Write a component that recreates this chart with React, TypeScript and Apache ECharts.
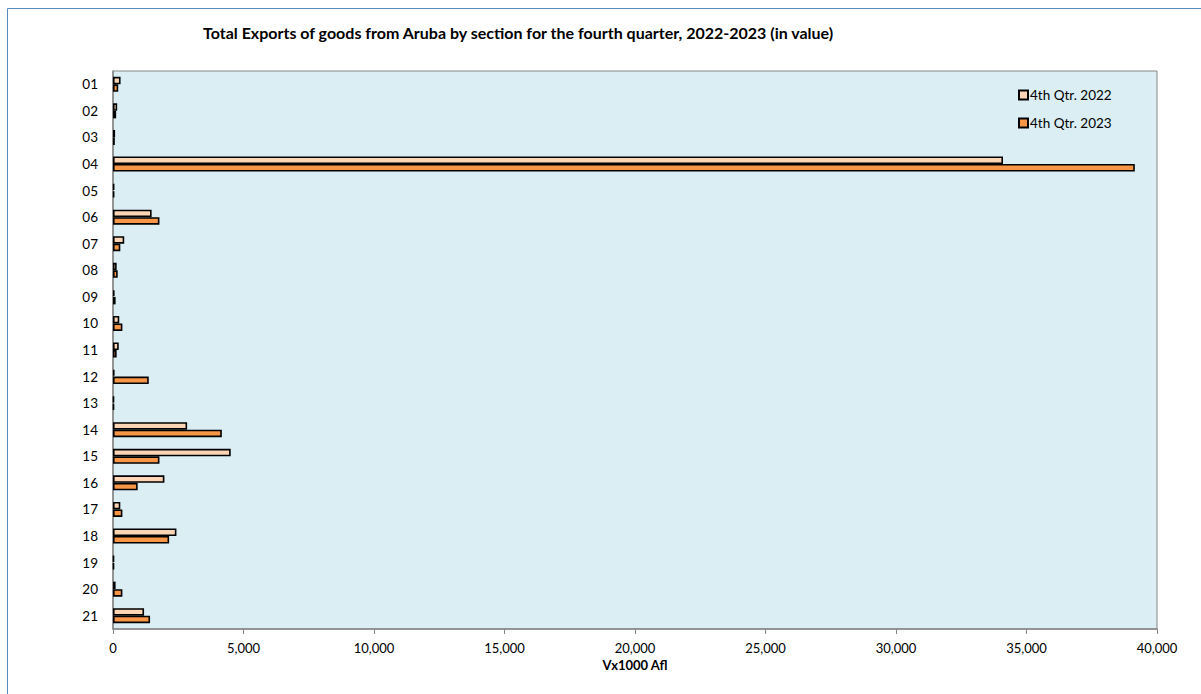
import React, { useEffect, useRef } from "react";
import * as echarts from "echarts";

const categories = ["01","02","03","04","05","06","07","08","09","10","11","12","13","14","15","16","17","18","19","20","21"];
const q4_2022 = [290, 160, 80, 34100, 50, 1480, 430, 140, 60, 240, 220, 60, 40, 2840, 4510, 1970, 280, 2430, 40, 100, 1190];
const q4_2023 = [200, 120, 70, 39150, 50, 1780, 280, 180, 100, 360, 140, 1370, 40, 4170, 1780, 945, 360, 2150, 40, 360, 1420];
const seriesNames = ["4th Qtr. 2022", "4th Qtr. 2023"];
const titleText = "Total Exports of goods from Aruba by section for the fourth quarter, 2022-2023 (in value)";
const xAxisName = "Vx1000 Afl";

const FONT = "Lato, 'Liberation Sans', sans-serif";

export default function App() {
  const ref = useRef<HTMLDivElement>(null);
  useEffect(() => {
    if (!ref.current) return;
    const chart = echarts.init(ref.current, undefined, { renderer: "svg" });
    chart.setOption({
      animation: false,
      backgroundColor: "#ffffff",
      textStyle: { fontFamily: FONT },
      title: {
        text: titleText,
        left: 198,
        top: 19,
        textStyle: { fontFamily: FONT, fontSize: 16, fontWeight: "bold", color: "#000" },
      },
      graphic: [
        {
          type: "rect",
          shape: { x: 7.5, y: 8.5, width: 1400, height: 900 },
          style: { fill: "none", stroke: "#5b87c0", lineWidth: 1 },
          silent: true,
        },
      ],
      legend: {
        orient: "vertical",
        left: 1013,
        top: 83,
        itemWidth: 9,
        itemHeight: 9,
        itemGap: 14,
        icon: "rect",
        textStyle: { fontFamily: FONT, fontSize: 13.5, color: "#000", padding: [0, 0, 0, -3] },
        data: seriesNames,
      },
      grid: {
        left: 113,
        right: 44,
        top: 71,
        bottom: 65,
        show: true,
        backgroundColor: "#daeef3",
        borderColor: "#868686",
        borderWidth: 1,
      },
      xAxis: {
        type: "value",
        min: 0,
        max: 40000,
        interval: 5000,
        name: xAxisName,
        nameLocation: "middle",
        nameGap: 29,
        nameTextStyle: { fontFamily: FONT, fontSize: 13, fontWeight: "bold", color: "#000" },
        axisLine: { show: true, lineStyle: { color: "#868686", width: 1.5 } },
        axisTick: { show: true, length: 5, lineStyle: { color: "#868686" } },
        splitLine: { show: false },
        axisLabel: {
          margin: 12,
          fontFamily: FONT,
          fontSize: 13,
          color: "#000",
          formatter: (v: number) => v.toLocaleString("en-US"),
        },
      },
      yAxis: {
        type: "category",
        data: categories,
        inverse: true,
        axisLine: { show: true, lineStyle: { color: "#868686", width: 1.5 } },
        axisTick: { show: false },
        axisLabel: { margin: 15, fontFamily: FONT, fontSize: 13.5, color: "#000" },
      },
      series: [
        {
          name: seriesNames[0],
          type: "bar",
          data: q4_2022,
          barWidth: 7.5,
          barGap: "0%",
          itemStyle: { color: "#fcd5b4", borderColor: "#000", borderWidth: 1.6 },
        },
        {
          name: seriesNames[1],
          type: "bar",
          data: q4_2023,
          barWidth: 7.5,
          barGap: "0%",
          itemStyle: { color: "#f79646", borderColor: "#000", borderWidth: 1.6 },
        },
      ],
    });
    return () => chart.dispose();
  }, []);
  return (
    <div
      ref={ref}
      style={{ position: "fixed", left: 0, top: 0, width: 1201, height: 694 }}
    />
  );
}
